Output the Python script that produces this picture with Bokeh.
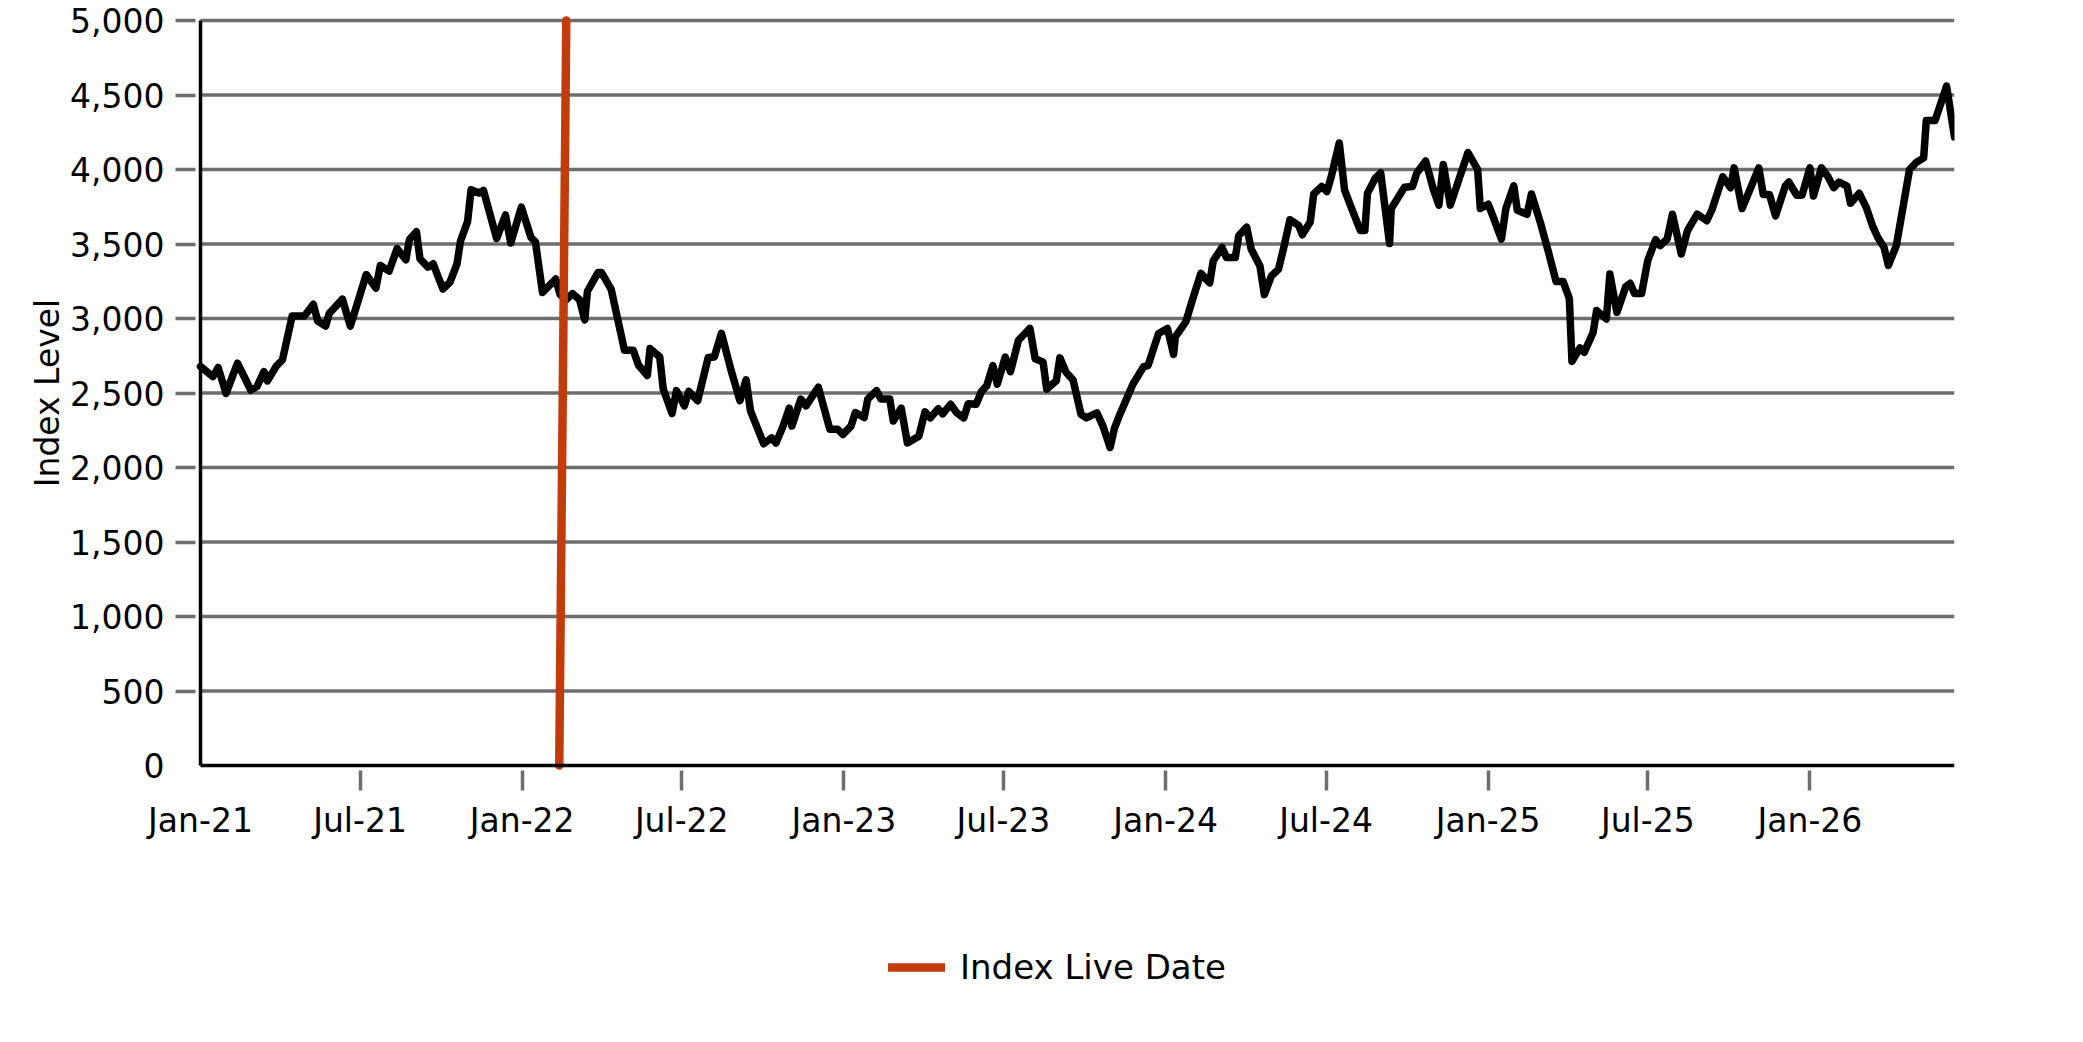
import math
import pandas as pd
from bokeh.plotting import figure
from bokeh.models import (Range1d, LinearAxis, FixedTicker, DatetimeTickFormatter,
                          NumeralTickFormatter, Legend, LegendItem, Label,
                          CustomJSTickFormatter)
from bokeh.embed import file_html
from bokeh.resources import INLINE

# ---------------- data ----------------
dates = [
    "2021-01-01", "2021-01-15", "2021-01-21", "2021-01-30", "2021-02-12", "2021-02-27",
    "2021-03-06", "2021-03-14", "2021-03-18", "2021-03-28", "2021-04-04", "2021-04-15",
    "2021-04-29", "2021-05-09", "2021-05-14", "2021-05-23", "2021-05-27", "2021-06-11",
    "2021-06-20", "2021-07-08", "2021-07-19", "2021-07-24", "2021-08-03", "2021-08-12",
    "2021-08-22", "2021-08-26", "2021-09-03", "2021-09-07", "2021-09-16", "2021-09-22",
    "2021-10-03", "2021-10-11", "2021-10-19", "2021-10-23", "2021-10-31", "2021-11-04",
    "2021-11-13", "2021-11-18", "2021-12-03", "2021-12-13", "2021-12-19", "2021-12-31",
    "2022-01-11", "2022-01-16", "2022-01-24", "2022-02-08", "2022-02-13", "2022-02-20",
    "2022-02-27", "2022-03-07", "2022-03-13", "2022-03-16", "2022-03-28", "2022-04-01",
    "2022-04-12", "2022-04-27", "2022-05-07", "2022-05-13", "2022-05-23", "2022-05-26",
    "2022-06-06", "2022-06-10", "2022-06-20", "2022-06-25", "2022-07-04", "2022-07-09",
    "2022-07-19", "2022-07-31", "2022-08-07", "2022-08-15", "2022-08-26", "2022-09-05",
    "2022-09-12", "2022-09-17", "2022-10-02", "2022-10-11", "2022-10-16", "2022-10-24",
    "2022-10-31", "2022-11-03", "2022-11-13", "2022-11-19", "2022-12-03", "2022-12-16",
    "2022-12-25", "2022-12-31", "2023-01-09", "2023-01-14", "2023-01-24", "2023-01-28",
    "2023-02-07", "2023-02-12", "2023-02-22", "2023-02-26", "2023-03-07", "2023-03-14",
    "2023-03-27", "2023-04-03", "2023-04-09", "2023-04-18", "2023-04-23", "2023-05-02",
    "2023-05-09", "2023-05-17", "2023-05-22", "2023-05-31", "2023-06-06", "2023-06-12",
    "2023-06-19", "2023-06-24", "2023-07-03", "2023-07-09", "2023-07-18", "2023-07-31",
    "2023-08-06", "2023-08-15", "2023-08-19", "2023-08-30", "2023-09-03", "2023-09-10",
    "2023-09-18", "2023-09-27", "2023-10-03", "2023-10-15", "2023-10-22", "2023-10-30",
    "2023-11-04", "2023-11-10", "2023-11-25", "2023-12-07", "2023-12-12", "2023-12-24",
    "2024-01-03", "2024-01-10", "2024-01-12", "2024-01-24", "2024-02-01", "2024-02-10",
    "2024-02-20", "2024-02-24", "2024-03-05", "2024-03-10", "2024-03-20", "2024-03-24",
    "2024-04-02", "2024-04-07", "2024-04-17", "2024-04-22", "2024-04-30", "2024-05-08",
    "2024-05-14", "2024-05-21", "2024-05-31", "2024-06-04", "2024-06-13", "2024-06-17",
    "2024-06-26", "2024-07-02", "2024-07-07", "2024-07-16", "2024-07-22", "2024-07-30",
    "2024-08-09", "2024-08-14", "2024-08-17", "2024-08-26", "2024-09-01", "2024-09-11",
    "2024-09-13", "2024-09-28", "2024-10-07", "2024-10-12", "2024-10-22", "2024-10-31",
    "2024-11-06", "2024-11-11", "2024-11-19", "2024-11-28", "2024-12-09", "2024-12-20",
    "2024-12-23", "2025-01-01", "2025-01-07", "2025-01-16", "2025-01-21", "2025-01-30",
    "2025-02-03", "2025-02-14", "2025-02-19", "2025-03-01", "2025-03-10", "2025-03-19",
    "2025-03-27", "2025-04-03", "2025-04-06", "2025-04-15", "2025-04-20", "2025-04-30",
    "2025-05-04", "2025-05-15", "2025-05-19", "2025-05-27", "2025-06-06", "2025-06-11",
    "2025-06-16", "2025-06-24", "2025-07-01", "2025-07-10", "2025-07-15", "2025-07-23",
    "2025-07-29", "2025-08-08", "2025-08-15", "2025-08-26", "2025-09-06", "2025-09-12",
    "2025-09-24", "2025-10-03", "2025-10-07", "2025-10-16", "2025-10-25", "2025-11-04",
    "2025-11-09", "2025-11-16", "2025-11-23", "2025-12-04", "2025-12-08", "2025-12-17",
    "2025-12-23", "2026-01-01", "2026-01-05", "2026-01-14", "2026-01-21", "2026-01-28",
    "2026-02-03", "2026-02-12", "2026-02-16", "2026-02-26", "2026-03-06", "2026-03-13",
    "2026-03-19", "2026-03-26", "2026-03-31", "2026-04-09", "2026-04-24", "2026-05-02",
    "2026-05-10", "2026-05-13", "2026-05-23", "2026-06-05", "2026-06-14",
]

index_level = [
    2678, 2610, 2671, 2497, 2700, 2520,
    2542, 2644, 2581, 2680, 2723, 3017,
    3017, 3096, 2983, 2949, 3033, 3130,
    2949, 3295, 3204, 3356, 3318, 3469,
    3394, 3530, 3582, 3401, 3345, 3367,
    3198, 3243, 3367, 3520, 3650, 3864,
    3842, 3860, 3537, 3695, 3507, 3747,
    3543, 3514, 3175, 3265, 3160, 3127,
    3167, 3127, 2991, 3183, 3308, 3308,
    3195, 2787, 2787, 2686, 2618, 2799,
    2742, 2527, 2362, 2516, 2414, 2511,
    2448, 2738, 2742, 2901, 2652, 2448,
    2588, 2380, 2159, 2199, 2165, 2278,
    2398, 2278, 2459, 2414, 2539, 2256,
    2256, 2222, 2278, 2369, 2335, 2459,
    2516, 2459, 2459, 2312, 2398, 2165,
    2210, 2374, 2333, 2394, 2360, 2424,
    2367, 2333, 2428, 2424, 2510, 2548,
    2684, 2560, 2741, 2643, 2854, 2933,
    2730, 2707, 2526, 2582, 2736, 2639,
    2587, 2356, 2333, 2367, 2276, 2134,
    2265, 2356, 2560, 2677, 2684, 2900,
    2933, 2759, 2877, 2979, 3137, 3303,
    3239, 3387, 3477, 3409, 3409, 3557,
    3613, 3466, 3353, 3160, 3285, 3330,
    3476, 3663, 3624, 3562, 3647, 3836,
    3886, 3852, 3954, 4178, 3863, 3738,
    3590, 3590, 3840, 3943, 3977, 3503,
    3738, 3881, 3886, 3977, 4057, 3863,
    3761, 4034, 3761, 3920, 4114, 4000,
    3738, 3767, 3676, 3533, 3738, 3891,
    3726, 3699, 3836, 3647, 3453, 3248,
    3248, 3134, 2712, 2803, 2773, 2906,
    3054, 2997, 3298, 3042, 3213, 3236,
    3168, 3168, 3389, 3529, 3489, 3533,
    3700, 3433, 3589, 3700, 3656, 3733,
    3951, 3878, 4011, 3738, 3867, 4011,
    3833, 3833, 3689, 3889, 3916, 3827,
    3827, 4011, 3822, 4011, 3956, 3878,
    3916, 3889, 3773, 3840, 3744, 3622,
    3544, 3478, 3356, 3489, 4000, 4049,
    4078, 4329, 4329, 4560, 4218,
]

live_date = ["2022-02-12", "2022-02-20"]
live_level = [0, 5000]

y_ticks = [0, 500, 1000, 1500, 2000, 2500, 3000, 3500, 4000, 4500, 5000]
x_tick_dates = ["2021-01-01", "2021-07-01", "2022-01-01", "2022-07-01", "2023-01-01",
                "2023-07-01", "2024-01-01", "2024-07-01", "2025-01-01", "2025-07-01",
                "2026-01-01"]
series_label = "Index Live Date"
y_title = "Index Level"

# ---------------- styling / layout ----------------
FONT = "DejaVu Sans"
GRID = "#6e6e6e"
RED = "#c23b0b"
Y_TOP = 5000
# The plotting frame is larger than the drawn axes (axes sit at fixed
# positions inside it) so that labels and the legend are never clipped.
PLOT_W = 1754          # px between first and last date
LEFT_PAD = 198         # px of frame left of the first date
FRAME_W = PLOT_W + LEFT_PAD
AXIS_H = 745           # px between 0 and 5000
TOP_PAD = 20           # px of frame above the 5000 line
FRAME_H = 1040
Y_UPPER = Y_TOP * (AXIS_H + TOP_PAD) / AXIS_H
Y_BOTTOM = -Y_TOP * (FRAME_H - AXIS_H - TOP_PAD) / AXIS_H


def to_ms(values):
    idx = pd.to_datetime(values)
    return [float(v) for v in (idx - pd.Timestamp("1970-01-01")) // pd.Timedelta("1ms")]


x_vals = pd.to_datetime(dates)
live_x = pd.to_datetime(live_date)
x_tick_ms = to_ms(x_tick_dates)
x_start, x_end = to_ms([dates[0], dates[-1]])
x_lo = x_start - (x_end - x_start) * LEFT_PAD / PLOT_W

p = figure(
    x_axis_type=None, y_axis_type=None,
    x_range=Range1d(x_lo, x_end), y_range=Range1d(Y_BOTTOM, Y_UPPER),
    frame_width=FRAME_W, frame_height=FRAME_H,
    min_border_left=2, min_border_right=129,
    min_border_top=0, min_border_bottom=0,
    output_backend="svg", toolbar_location=None,
    background_fill_color="white", border_fill_color="white",
)
p.outline_line_color = None
p.xgrid.visible = False
p.ygrid.visible = False

# horizontal grid lines at the value ticks, spanning the date range
grid_vals = y_ticks[1:]
p.segment(x0=[x_start] * len(grid_vals), x1=[x_end] * len(grid_vals),
          y0=grid_vals, y1=grid_vals, line_color=GRID, line_width=3.5,
          level="underlay")

empty = CustomJSTickFormatter(code="return ''")

# ---- value axis at the first date: tick marks + labels
y_tick_axis = LinearAxis(
    ticker=FixedTicker(ticks=grid_vals), formatter=empty,
    fixed_location=x_start, bounds=(0, Y_TOP),
    axis_line_color="black", axis_line_width=3.5,
    major_tick_out=25, major_tick_in=-5, major_tick_line_color=GRID,
    major_tick_line_width=3.5, minor_tick_out=0, minor_tick_in=0,
    minor_tick_line_color=None, major_label_standoff=0,
    major_label_text_font_size="0px",
)
y_label_axis = LinearAxis(
    ticker=FixedTicker(ticks=y_ticks), formatter=NumeralTickFormatter(format="0,0"),
    fixed_location=x_start, bounds=(0, Y_TOP),
    axis_line_color=None, major_tick_out=0, major_tick_in=0,
    major_tick_line_color=None, minor_tick_out=0, minor_tick_in=0,
    minor_tick_line_color=None, major_label_standoff=36,
    major_label_text_font=FONT, major_label_text_font_size="33px",
    major_label_text_color="black",
)
p.add_layout(y_tick_axis, "left")
p.add_layout(y_label_axis, "left")

p.add_layout(Label(
    x=x_start, y=Y_TOP / 2, x_offset=-153, text=y_title,
    angle=math.pi / 2, angle_units="rad",
    text_align="center", text_baseline="middle",
    text_font=FONT, text_font_size="33px", text_color="black",
))

# ---- date axis at value 0: tick marks + labels
fmt = DatetimeTickFormatter(days="%b-%y", months="%b-%y", years="%b-%y",
                            hours="%b-%y", hourmin="%b-%y")
x_tick_axis = LinearAxis(
    ticker=FixedTicker(ticks=x_tick_ms[1:]), formatter=empty,
    fixed_location=0, bounds=(x_start, x_end),
    axis_line_color="black", axis_line_width=3.5,
    major_tick_out=25, major_tick_in=-5, major_tick_line_color=GRID,
    major_tick_line_width=3.5, minor_tick_out=0, minor_tick_in=0,
    minor_tick_line_color=None, major_label_standoff=0,
    major_label_text_font_size="0px",
)
x_label_axis = LinearAxis(
    ticker=FixedTicker(ticks=x_tick_ms), formatter=fmt,
    fixed_location=0, bounds=(x_start, x_end),
    axis_line_color=None, major_tick_out=0, major_tick_in=0,
    major_tick_line_color=None, minor_tick_out=0, minor_tick_in=0,
    minor_tick_line_color=None, major_label_standoff=35,
    major_label_text_font=FONT, major_label_text_font_size="33px",
    major_label_text_color="black",
)
p.add_layout(x_tick_axis, "below")
p.add_layout(x_label_axis, "below")

# ---- series
p.line(x=x_vals, y=index_level, line_color="black", line_width=7.5,
       line_join="round", line_cap="round")
live = p.line(x=live_x, y=live_level, line_color=RED, line_width=8.5,
              line_cap="round")

legend = Legend(
    items=[LegendItem(label=series_label, renderers=[live])],
    location=(886, 53), orientation="horizontal",
    padding=0, margin=0, spacing=0,
    glyph_width=57, glyph_height=40, label_height=40, label_standoff=15,
    label_text_font=FONT, label_text_font_size="34px", label_text_color="black",
    border_line_alpha=0, background_fill_alpha=0,
)
p.add_layout(legend, "center")

with open("out.html", "w") as f:
    f.write(file_html(p, INLINE))
